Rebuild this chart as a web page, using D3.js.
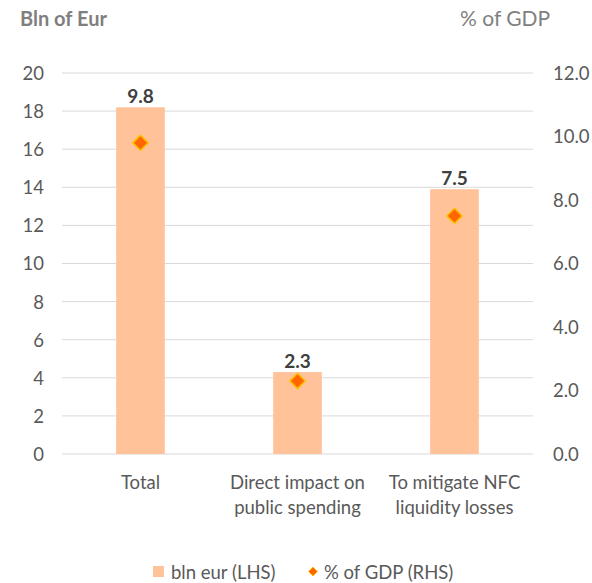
<!DOCTYPE html>
<html>
<head>
<meta charset="utf-8">
<script src="https://cdn.jsdelivr.net/npm/d3@7"></script>
<style>
	body { margin: 0; background: #fff; }
	text { font-family: Lato, "Open Sans", sans-serif; }
</style>
</head>
<body>
<script>
	// Data
	let categories = [["Total"], ["Direct impact on", "public spending"], ["To mitigate NFC", "liquidity losses"]];
	let blnEur = [18.2, 4.3, 13.9];
	let pctGdp = [9.8, 2.3, 7.5];
	let leftTicks = [0, 2, 4, 6, 8, 10, 12, 14, 16, 18, 20];
	let rightTicks = [0, 2, 4, 6, 8, 10, 12];

	let width = 592;
	let height = 583;
	let margin = { top: 73, right: 59, bottom: 129, left: 62 };
	let barColor = "#ffc299";
	let textColor = "#595959";
	let fontSize = "18.5px";

	let svg = d3.select("body").append("svg").attr("width", width).attr("height", height);

	let xScale = d3.scaleBand().domain(d3.range(categories.length))
		.range([margin.left, width - margin.right]).paddingInner(0.69).paddingOuter(0.345);
	let yLeft = d3.scaleLinear().domain([0, 20]).range([height - margin.bottom, margin.top]);
	let yRight = d3.scaleLinear().domain([0, 12]).range([height - margin.bottom, margin.top]);

	// Gridlines
	svg.append("g").selectAll("line").data(leftTicks).enter().append("line")
		.attr("x1", margin.left).attr("x2", width - margin.right)
		.attr("y1", d => yLeft(d)).attr("y2", d => yLeft(d))
		.style("stroke", "#d9d9d9").style("stroke-width", 1);

	// Left axis
	let leftAxis = d3.axisLeft(yLeft).tickValues(leftTicks).tickSize(0).tickPadding(0);
	let gl = svg.append("g").attr("transform", "translate(44,0)").call(leftAxis);
	gl.select(".domain").remove();
	gl.selectAll("text").style("font-size", fontSize).style("fill", textColor).attr("dy", "0.35em");

	// Right axis
	let rightAxis = d3.axisRight(yRight).tickValues(rightTicks).tickFormat(d3.format(".1f")).tickSize(0).tickPadding(0);
	let gr = svg.append("g").attr("transform", "translate(553,0)").call(rightAxis);
	gr.select(".domain").remove();
	gr.selectAll("text").style("font-size", fontSize).style("fill", textColor).attr("dy", "0.35em");

	// Bars
	svg.append("g").selectAll("rect").data(blnEur).enter().append("rect")
		.attr("x", (d, i) => xScale(i))
		.attr("width", xScale.bandwidth())
		.attr("y", d => yLeft(d))
		.attr("height", d => yLeft(0) - yLeft(d))
		.style("fill", barColor);

	// Diamonds
	let diamond = d3.symbol().type(d3.symbolDiamond2).size(150);
	svg.append("g").selectAll("path").data(pctGdp).enter().append("path")
		.attr("d", diamond)
		.attr("transform", (d, i) => "translate(" + (xScale(i) + xScale.bandwidth() / 2) + "," + yRight(d) + ")")
		.style("fill", "#ff6600").style("stroke", "#ffc000").style("stroke-width", 1.5);

	// Value labels above bars
	svg.append("g").selectAll("text").data(pctGdp).enter().append("text")
		.attr("x", (d, i) => xScale(i) + xScale.bandwidth() / 2)
		.attr("y", (d, i) => yLeft(blnEur[i]) - 4)
		.attr("text-anchor", "middle")
		.style("font-size", "19px").style("font-weight", "bold").style("fill", "#404040")
		.text(d => d3.format(".1f")(d));

	// Category labels
	let cat = svg.append("g").selectAll("text").data(categories).enter().append("text")
		.attr("x", (d, i) => xScale(i) + xScale.bandwidth() / 2)
		.attr("y", 489)
		.attr("text-anchor", "middle")
		.style("font-size", fontSize).style("fill", textColor);
	cat.selectAll("tspan").data(d => d).enter().append("tspan")
		.attr("x", function() { return d3.select(this.parentNode).attr("x"); })
		.attr("dy", (d, i) => i === 0 ? 0 : 25)
		.text(d => d);

	// Axis titles
	svg.append("text").attr("x", 20).attr("y", 26)
		.style("font-size", "20px").style("font-weight", "bold").style("fill", "#7f7f7f")
		.text("Bln of Eur");
	svg.append("text").attr("x", 460).attr("y", 26)
		.style("font-size", "21px").style("fill", "#7f7f7f")
		.text("% of GDP");

	// Legend
	let legend = svg.append("g").attr("transform", "translate(0,579)");
	legend.append("rect").attr("x", 153).attr("y", -13).attr("width", 11).attr("height", 11).style("fill", barColor);
	legend.append("text").attr("x", 171).attr("y", 0).style("font-size", fontSize).style("fill", textColor).text("bln eur (LHS)");
	legend.append("path").attr("d", d3.symbol().type(d3.symbolDiamond2).size(50))
		.attr("transform", "translate(313,-7.5)")
		.style("fill", "#ff6600").style("stroke", "#ffc000").style("stroke-width", 1);
	legend.append("text").attr("x", 324).attr("y", 0).style("font-size", fontSize).style("fill", textColor).text("% of GDP (RHS)");
</script>
</body>
</html>
